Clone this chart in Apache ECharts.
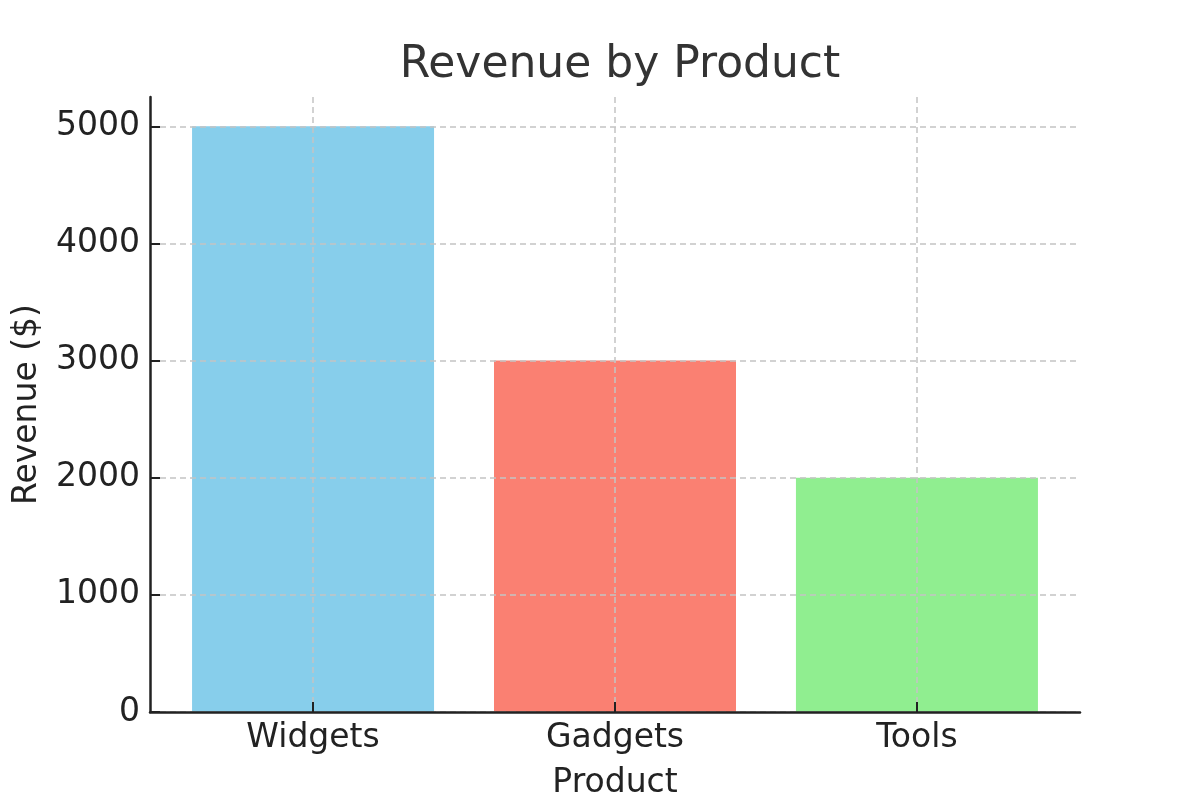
<!DOCTYPE html>
<html>
<head>
<meta charset="utf-8">
<script src="https://cdn.jsdelivr.net/npm/echarts@6/dist/echarts.min.js"></script>
<style>html,body{margin:0;padding:0;background:#fff}#c{width:1200px;height:800px}</style>
</head>
<body>
<div id="c"></div>
<script>
const categories = ['Widgets', 'Gadgets', 'Tools'];
const revenue = [5000, 3000, 2000];
const barColors = ['#87CEEB', '#FA8072', '#90EE90'];
const yTicks = [0, 1000, 2000, 3000, 4000, 5000];
const catPositions = categories.map((c, i) => i);

const chart = echarts.init(document.getElementById('c'));
const font = 'DejaVu Sans';
chart.setOption({
  backgroundColor: '#ffffff',
  animation: false,
  title: {
    text: 'Revenue by Product',
    left: 615, textAlign: 'center', top: 39,
    textStyle: { fontFamily: font, fontSize: 44, fontWeight: 'normal', color: '#333333' }
  },
  grid: { left: 150, right: 120, top: 97, bottom: 88, containLabel: false, outerBoundsMode: 'none' },
  xAxis: {
    type: 'value', min: -0.54, max: 2.54, z: 3,
    name: 'Product', nameLocation: 'middle', nameGap: 55,
    nameTextStyle: { fontFamily: font, fontSize: 33, color: '#222222' },
    axisLine: { show: true, onZero: false, lineStyle: { color: '#222222', width: 2.5 } },
    axisTick: { show: true, inside: true, length: 10, customValues: catPositions, lineStyle: { color: '#222222', width: 2 } },
    axisLabel: { customValues: catPositions, margin: 10, formatter: v => categories[Math.round(v)] || '',
      fontFamily: font, fontSize: 33, color: '#222222' },
    splitLine: { show: true, lineStyle: { color: '#c4c4c4', width: 1.5, type: [6, 4] } }
  },
  yAxis: {
    type: 'value', min: 0, max: 5250, z: 3,
    name: 'Revenue ($)', nameLocation: 'middle', nameGap: 106, nameRotate: 90,
    nameTextStyle: { fontFamily: font, fontSize: 33, color: '#222222' },
    axisLine: { show: true, onZero: false, lineStyle: { color: '#222222', width: 2.5 } },
    axisTick: { show: true, inside: true, length: 10, customValues: yTicks, lineStyle: { color: '#222222', width: 2 } },
    axisLabel: { customValues: yTicks, margin: 10, formatter: v => String(v), fontFamily: font, fontSize: 33, color: '#222222' },
    splitLine: { show: true, lineStyle: { color: '#c4c4c4', width: 1.5, type: [6, 4] } }
  },
  series: [{
    type: 'bar', z: 1, barWidth: 242,
    data: revenue.map((v, i) => ({ value: [catPositions[i], v], itemStyle: { color: barColors[i] } }))
  }]
});
</script>
</body>
</html>
